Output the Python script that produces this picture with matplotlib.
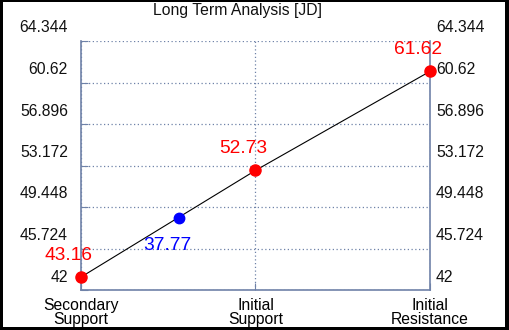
import matplotlib
matplotlib.use("Agg")
import matplotlib.pyplot as plt
from matplotlib.patches import Rectangle
from matplotlib.transforms import blended_transform_factory, ScaledTranslation

plt.rcParams['font.family'] = ['Liberation Sans', 'DejaVu Sans']

title = "Long Term Analysis [JD]"
categories = ["Secondary\nSupport", "Initial\nSupport", "Initial\nResistance"]
levels = [43.16, 52.73, 61.62]
level_labels = ["43.16", "52.73", "61.62"]
price_label = "37.77"
price_pos_x = 0.56
price_pos_y = 48.5
y_ticks = [42, 45.724, 49.448, 53.172, 56.896, 60.62, 64.344]
y_tick_labels = ["42", "45.724", "49.448", "53.172", "56.896", "60.62", "64.344"]

axis_color = "#6f82a8"
W, H = 510, 330
fig = plt.figure(figsize=(W / 100, H / 100), dpi=100)
fig.patch.set_facecolor("black")
fig.patches.append(Rectangle((3 / W, 3 / H), (505 - 3) / W, (328 - 3) / H,
                             transform=fig.transFigure, facecolor="white",
                             edgecolor="none", zorder=-10))

ax = fig.add_axes([81 / W, 40 / H, (430 - 81) / W, (290 - 41) / H])
ax.set_zorder(1)
ax.set_facecolor("white")
ax.set_xlim(0, 2)
ax.set_ylim(y_ticks[0], y_ticks[-1])

x = list(range(len(categories)))
ax.plot(x, levels, color="black", lw=0.8, zorder=3)
ax.plot(x, levels, "o", color="red", ms=8, zorder=4, clip_on=False)
ax.plot([price_pos_x], [price_pos_y], "o", color="blue", ms=7.5, zorder=4, clip_on=False)

for xi, v, lab in zip(x, levels, level_labels):
    ax.annotate(lab, (xi, v), xytext=(-12, 22), textcoords="offset pixels",
                ha="center", va="center", color="red", fontsize=13.8, zorder=5,
                annotation_clip=False)
ax.annotate(price_label, (price_pos_x, price_pos_y), xytext=(-11, -28),
            textcoords="offset pixels", ha="center", va="center", color="blue",
            fontsize=13.8, zorder=5)

# grid
ax.set_yticks(y_ticks)
ax.set_yticklabels([])
ax.set_xticks(x)
ax.set_xticklabels(categories, fontsize=11.3, linespacing=0.88)
ax.tick_params(axis="x", direction="in", length=5, color=axis_color, pad=6)
ax.tick_params(axis="y", direction="in", length=5, color=axis_color,
               left=True, right=False)
ax.grid(True, axis="both", color=axis_color, linestyle=(0, (1, 2)), lw=0.9)
ax.set_axisbelow(True)
for s in ["left", "right", "bottom"]:
    ax.spines[s].set_color(axis_color)
    ax.spines[s].set_linewidth(1.2)
ax.spines["top"].set_visible(False)

# y labels drawn above gridlines on both sides
off = ScaledTranslation(0, 13 / 100, fig.dpi_scale_trans)
left_tr = blended_transform_factory(fig.transFigure, ax.transData) + off
for v, lab in zip(y_ticks, y_tick_labels):
    ax.text(68 / W, v, lab, transform=left_tr, ha="right", va="center",
            fontsize=11.3, color="#111111", clip_on=False)
    ax.text(436 / W, v, lab, transform=left_tr, ha="left", va="center",
            fontsize=11.3, color="#111111", clip_on=False)

fig.text(238 / W, 1 - 10 / H, title, ha="center", va="center", fontsize=11.3,
         color="#111111")

fig.savefig("out.png", dpi=100, facecolor=fig.get_facecolor())
